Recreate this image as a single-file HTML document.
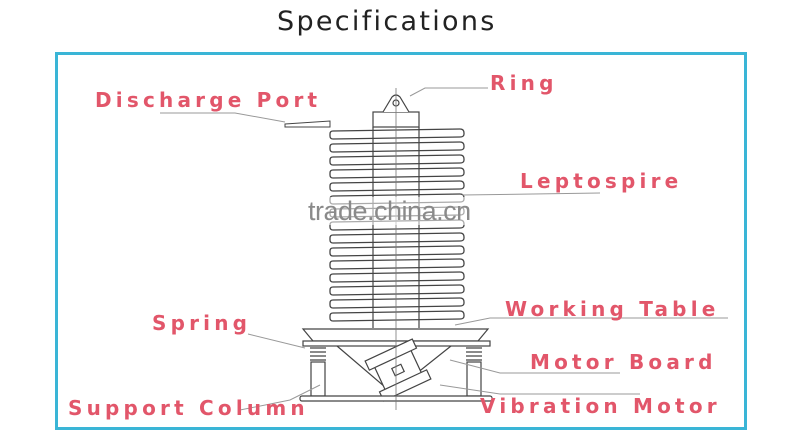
<!DOCTYPE html>
<html><head><meta charset="utf-8"><style>
body{margin:0;background:#fff;width:800px;height:444px;overflow:hidden;position:relative;font-family:"Liberation Sans",sans-serif}
.t{position:absolute;left:277px;top:6px;font-size:27px;letter-spacing:2.3px;color:#222;font-family:"DejaVu Sans",sans-serif;white-space:nowrap}
.frame{position:absolute;left:55px;top:52px;width:686px;height:372px;border:3px solid #3ab5d6}
.l{position:absolute;color:#e2566a;font-weight:bold;font-size:20px;letter-spacing:4.2px;white-space:nowrap;line-height:20px;font-family:"DejaVu Sans",sans-serif}
.wm{position:absolute;left:308px;top:196px;font-size:27px;color:#8a8a8a;letter-spacing:-0.5px}
</style></head><body>
<div class="t">Specifications</div>
<div class="frame"></div>
<svg width="800" height="444" style="position:absolute;left:0;top:0">
<defs>
<g id="c" fill="#fff" stroke="#444" stroke-width="1.3">
<path d="M333 0 L460 -2 Q464 -2 464 2 L464 3 Q464 6 460 6 L333 8 Q330 8 330 5 L330 3 Q330 0 333 0 Z"/>
</g>
</defs>
<g>
<use href="#c" y="131"/><use href="#c" y="144"/><use href="#c" y="157"/><use href="#c" y="170"/><use href="#c" y="183"/><use href="#c" y="196"/><use href="#c" y="209"/><use href="#c" y="222"/><use href="#c" y="235"/><use href="#c" y="248"/><use href="#c" y="261"/><use href="#c" y="274"/><use href="#c" y="287"/><use href="#c" y="300"/><use href="#c" y="313"/>
</g>
<g stroke="#444" stroke-width="1.2" fill="none">
<line x1="373" y1="127" x2="373" y2="328"/><line x1="419" y1="127" x2="419" y2="328"/>
<rect x="373" y="112" width="46" height="15" fill="#fff"/>
<path d="M383 112 L392 97 Q396 93 400 97 L409 112" fill="#fff"/>
<circle cx="396" cy="103" r="3"/>
<path d="M285 124 L330 121 L330 127 L285 127 Z" stroke-width="1"/>
<path d="M303 329 L488 329 L478 341 L313 341 Z" fill="#fff"/>
<rect x="303" y="341" width="187" height="5" fill="#fff"/>
<path d="M337 346 L392 393 L451 346"/>
<g transform="rotate(-25 398 370)"><rect x="378" y="352" width="40" height="36" fill="#fff"/><rect x="372" y="348" width="52" height="10" fill="#fff"/><rect x="372" y="382" width="52" height="10" fill="#fff"/><rect x="393" y="366" width="10" height="8"/></g>
<path d="M310 348 h16 M310 352 h16 M310 356 h16 M310 360 h16 M466 348 h16 M466 352 h16 M466 356 h16 M466 360 h16"/>
<rect x="311" y="362" width="14" height="34"/><rect x="467" y="362" width="14" height="34"/>
<rect x="300" y="396" width="192" height="5" rx="2" fill="#fff"/>
</g>
<line x1="396" y1="88" x2="396" y2="410" stroke="#777" stroke-width="0.8"/>
<g stroke="#999" stroke-width="1" fill="none">
<path d="M160 113 L235 113 L285 122"/>
<path d="M410 96 L425 88 L488 88"/>
<path d="M462 195 L600 193"/>
<path d="M455 325 L490 318 L728 318"/>
<path d="M248 334 L305 348"/>
<path d="M450 360 L500 373 L620 373"/>
<path d="M320 385 L290 400 L240 410"/>
<path d="M440 385 L500 394 L640 394"/>
</g>
<rect x="300" y="197" width="310" height="28" fill="#fff" opacity="0.55"/>
</svg>
<div class="wm">trade.china.cn</div>
<div class="l" style="left:95px;top:90px">Discharge Port</div>
<div class="l" style="left:490px;top:73px">Ring</div>
<div class="l" style="left:520px;top:171px">Leptospire</div>
<div class="l" style="left:505px;top:299px">Working Table</div>
<div class="l" style="left:152px;top:313px">Spring</div>
<div class="l" style="left:530px;top:352px">Motor Board</div>
<div class="l" style="left:68px;top:398px">Support Column</div>
<div class="l" style="left:480px;top:396px">Vibration Motor</div>
</body></html>
